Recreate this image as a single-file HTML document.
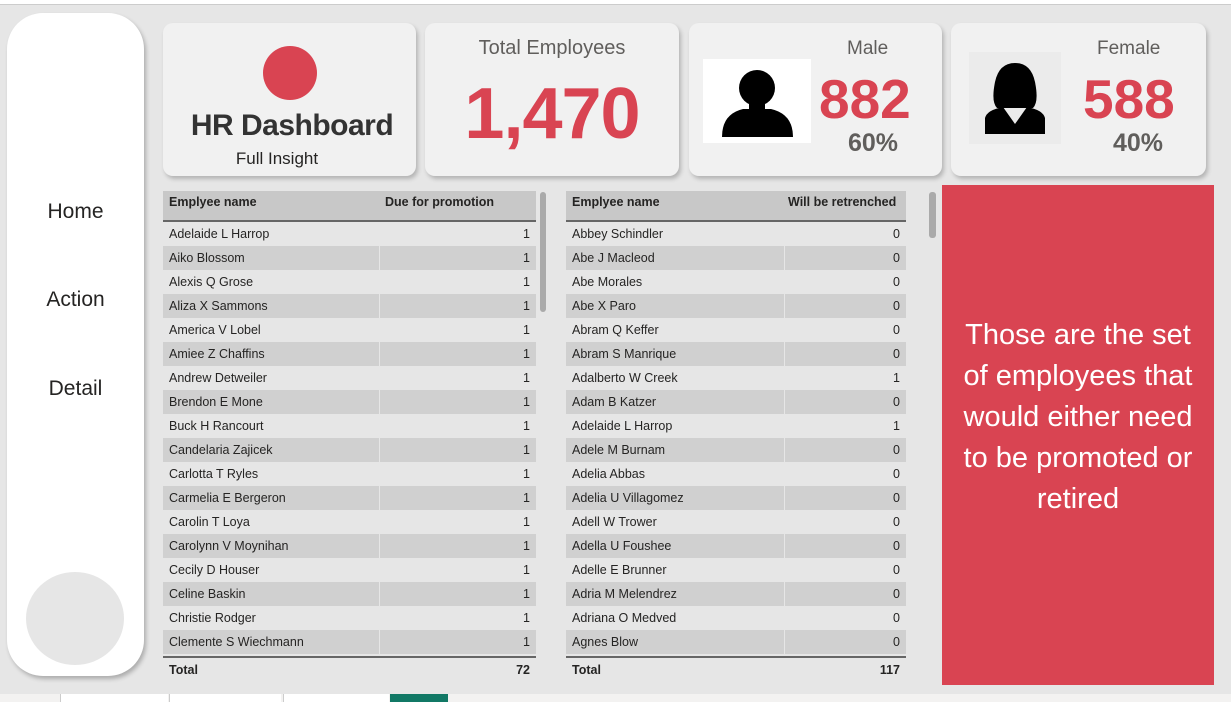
<!DOCTYPE html>
<html><head><meta charset="utf-8"><style>
*{box-sizing:border-box;margin:0;padding:0}
body{width:1231px;height:702px;background:#e6e6e6;font-family:"Liberation Sans",sans-serif;position:relative;overflow:hidden}
.a{position:absolute}
.card{position:absolute;background:#f1f1f1;border-radius:10px;box-shadow:2px 3px 4px rgba(0,0,0,.22)}
.t{position:absolute;white-space:nowrap}
.tbl{position:absolute;font-size:12.5px;color:#252423}
.hdr{position:absolute;left:0;right:0;top:0;height:31px;background:#c8c8c8;border-bottom:2px solid #666;font-weight:bold;font-size:12.5px}
.row{position:absolute;left:0;right:0;height:24px}
.row span{position:absolute;top:5px}
.tot{position:absolute;left:0;right:0;border-top:2px solid #666;font-weight:bold}
</style></head><body>
<div class="a" style="left:0;top:0;width:1231px;height:5px;background:#fff;border-bottom:1px solid #ccc"></div>
<div class="a" style="left:7px;top:13px;width:137px;height:663px;background:#fff;border-radius:36px;box-shadow:2px 3px 4px rgba(0,0,0,.25)">
 <div class="t" style="left:0;width:137px;text-align:center;top:187px;font-size:21px;color:#252423">Home</div>
 <div class="t" style="left:0;width:137px;text-align:center;top:275px;font-size:21px;color:#252423">Action</div>
 <div class="t" style="left:0;width:137px;text-align:center;top:364px;font-size:21px;color:#252423">Detail</div>
 <div class="a" style="left:19px;top:559px;width:98px;height:93px;border-radius:50%;background:#e6e6e6"></div>
</div>
<div class="card" style="left:163px;top:23px;width:253px;height:153px">
 <div class="a" style="left:100px;top:23px;width:54px;height:54px;border-radius:50%;background:#d94452"></div>
 <div class="t" style="left:0;width:258px;text-align:center;top:86px;font-size:30px;font-weight:bold;color:#333;letter-spacing:-0.5px">HR Dashboard</div>
 <div class="t" style="left:0;width:228px;text-align:center;top:126px;font-size:17px;color:#252423">Full Insight</div>
</div>
<div class="card" style="left:425px;top:23px;width:254px;height:153px">
 <div class="t" style="left:0;width:254px;text-align:center;top:14px;font-size:20px;color:#605e5c">Total Employees</div>
 <div class="t" style="left:0;width:254px;text-align:center;top:50px;font-size:72px;font-weight:bold;color:#d94452;letter-spacing:-1px">1,470</div>
</div>
<div class="card" style="left:689px;top:23px;width:253px;height:153px">
 <div class="a" style="left:14px;top:36px;width:108px;height:84px;background:#fff">
  <svg width="108" height="84"><circle cx="54" cy="29" r="18" fill="#000"/><rect x="46" y="40" width="16" height="14" fill="#000"/><path d="M19 78 Q19 55 40 50 L68 50 Q90 55 90 78 Z" fill="#000"/></svg>
 </div>
 <div class="t" style="left:158px;top:15px;font-size:19px;color:#605e5c">Male</div>
 <div class="t" style="left:130px;top:44px;font-size:55px;font-weight:bold;color:#d94452">882</div>
 <div class="t" style="left:159px;top:106px;font-size:25px;font-weight:bold;color:#605e5c">60%</div>
</div>
<div class="card" style="left:951px;top:23px;width:255px;height:153px">
 <div class="a" style="left:18px;top:29px;width:92px;height:92px;background:#ebebeb">
  <svg width="92" height="92"><path d="M28 56 Q22 50 26 30 Q30 11 46 11 Q62 11 66 30 Q70 50 64 56 Z" fill="#000"/><path d="M16 82 L16 66 Q18 58 34 55 L46 72 L58 55 Q74 58 76 66 L76 82 Z" fill="#000"/></svg>
 </div>
 <div class="t" style="left:146px;top:15px;font-size:19px;color:#605e5c">Female</div>
 <div class="t" style="left:132px;top:44px;font-size:55px;font-weight:bold;color:#d94452">588</div>
 <div class="t" style="left:162px;top:106px;font-size:25px;font-weight:bold;color:#605e5c">40%</div>
</div>

<div class="tbl" id="t1" style="left:163px;top:191px;width:373px;height:490px">
 <div class="hdr"><span class="t" style="left:6px;top:4px">Emplyee name</span><span class="t" style="left:222px;top:4px">Due for promotion</span></div>
</div>
<div class="a" style="left:540px;top:192px;width:6px;height:120px;background:#aaa;border-radius:3px"></div>
<div class="tbl" id="t2" style="left:566px;top:191px;width:340px;height:490px">
 <div class="hdr"><span class="t" style="left:6px;top:4px">Emplyee name</span><span class="t" style="left:222px;top:4px">Will be retrenched</span></div>
</div>
<div class="a" style="left:929px;top:192px;width:7px;height:46px;background:#aaa;border-radius:3px"></div>

<div class="a" style="left:942px;top:185px;width:272px;height:500px;background:#d94452;color:#fff;font-size:29px;line-height:41px;text-align:center;padding:130px 14px 0 14px;font-family:'Liberation Sans',sans-serif">Those are the set of employees that would either need to be promoted or retired</div>

<div class="a" style="left:0;top:694px;width:1231px;height:8px;background:#f3f2f1">
 <div class="a" style="left:60px;top:0;width:108px;height:8px;background:#fff;border-left:1px solid #ccc"></div>
 <div class="a" style="left:169px;top:0;width:112px;height:8px;background:#fff;border-left:1px solid #ccc"></div>
 <div class="a" style="left:283px;top:0;width:106px;height:8px;background:#fff;border-left:1px solid #ccc"></div>
 <div class="a" style="left:390px;top:0;width:58px;height:8px;background:#117865"></div>
</div>
<script>
const promoNames=["Adelaide L Harrop","Aiko Blossom","Alexis Q Grose","Aliza X Sammons","America V Lobel","Amiee Z Chaffins","Andrew Detweiler","Brendon E Mone","Buck H Rancourt","Candelaria Zajicek","Carlotta T Ryles","Carmelia E Bergeron","Carolin T Loya","Carolynn V Moynihan","Cecily D Houser","Celine Baskin","Christie Rodger","Clemente S Wiechmann"];
const promoValues=[1,1,1,1,1,1,1,1,1,1,1,1,1,1,1,1,1,1];
const promoTotal=72;
const retNames=["Abbey Schindler","Abe J Macleod","Abe Morales","Abe X Paro","Abram Q Keffer","Abram S Manrique","Adalberto W Creek","Adam B Katzer","Adelaide L Harrop","Adele M Burnam","Adelia Abbas","Adelia U Villagomez","Adell W Trower","Adella U Foushee","Adelle E Brunner","Adria M Melendrez","Adriana O Medved","Agnes Blow"];
const retValues=[0,0,0,0,0,0,1,0,1,0,0,0,0,0,0,0,0,0];
const retTotal=117;
function build(id,names,vals,total,w,split,pfx){
 const t=document.getElementById(id);
 names.forEach((n,i)=>{
  const r=document.createElement('div');r.className='row';
  
  
  r.style.top=(31+i*24)+'px';
  r.style.background=i%2?'#d0d0d0':'#e6e6e6';
  if(i%2){const d=document.createElement('div');d.className='a';d.style.cssText='left:'+split+'px;top:0;width:1px;height:24px;background:#e6e6e6';r.appendChild(d);}
  r.innerHTML+='<span style="left:6px">'+n+'</span><span style="right:6px">'+vals[i]+'</span>';
  t.appendChild(r);
 });
 const tt=document.createElement('div');tt.className='tot';
 
 
 tt.style.top=(31+names.length*24+2)+'px';tt.style.height='24px';
 tt.innerHTML='<span class="t" style="left:6px;top:5px">Total</span><span class="t" style="right:6px;top:5px">'+total+'</span>';
 t.appendChild(tt);
}
build('t1',promoNames,promoValues,promoTotal,373,216,'promotion');
build('t2',retNames,retValues,retTotal,340,218,'retrench');
</script>
</body></html>
